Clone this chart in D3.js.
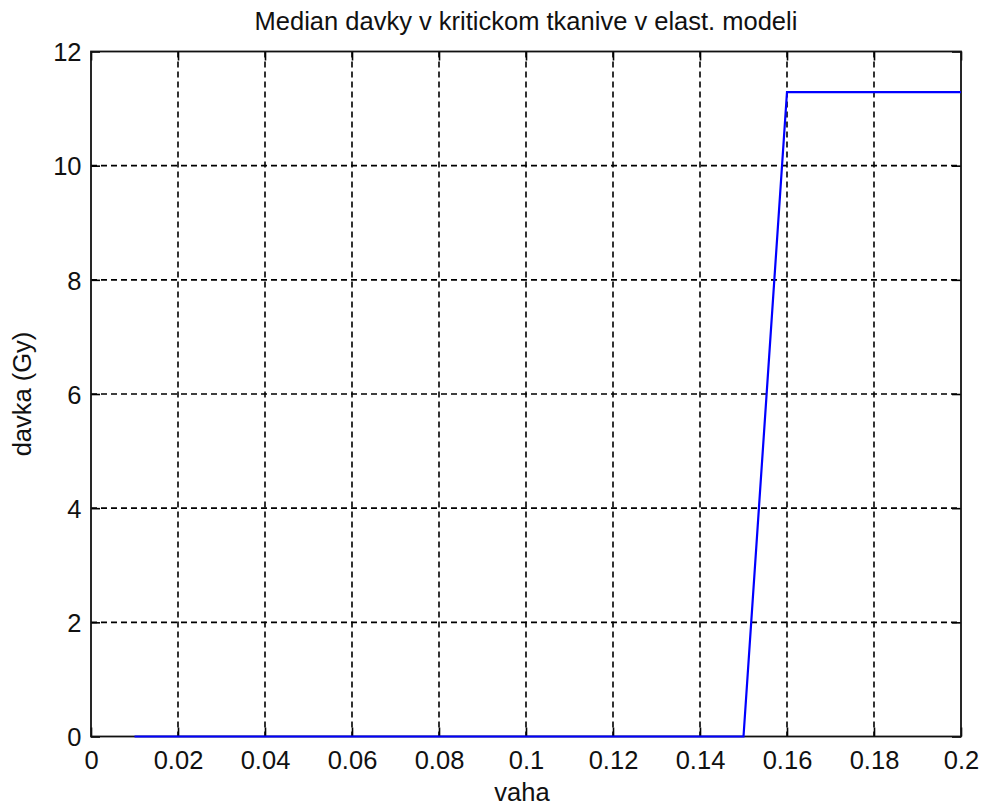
<!DOCTYPE html>
<html>
<head>
<meta charset="utf-8">
<script src="https://cdn.jsdelivr.net/npm/d3@7"></script>
<style>
  html, body { margin: 0; padding: 0; background: #fff; }
  svg { display: block; }
  text { font-family: "Liberation Sans", Arial, Helvetica, sans-serif; fill: #111; }
</style>
</head>
<body>
<svg id="chart" width="985" height="810"></svg>
<script>
// ---- data ----
const vaha = [0.01, 0.02, 0.03, 0.04, 0.05, 0.06, 0.07, 0.08, 0.09, 0.10,
              0.11, 0.12, 0.13, 0.14, 0.15, 0.16, 0.17, 0.18, 0.19, 0.20];
const davka = [0, 0, 0, 0, 0, 0, 0, 0, 0, 0,
               0, 0, 0, 0, 0, 11.29, 11.29, 11.29, 11.29, 11.29];
const xTicks = [0, 0.02, 0.04, 0.06, 0.08, 0.1, 0.12, 0.14, 0.16, 0.18, 0.2];
const yTicks = [0, 2, 4, 6, 8, 10, 12];
const titleText = "Median davky v kritickom tkanive v elast. modeli";
const xLabelText = "vaha";
const yLabelText = "davka (Gy)";

// ---- layout ----
const L = 91, R = 961, T = 51.5, B = 736.5;
const svg = d3.select("#chart");
const x = d3.scaleLinear().domain([0, 0.2]).range([L, R]);
const y = d3.scaleLinear().domain([0, 12]).range([B, T]);
const fs = 25.5;
const tickLen = 9;

// grid lines (dashed)
const grid = svg.append("g");
grid.selectAll("line.gx").data(xTicks.filter(d => d > 0 && d < 0.2)).join("line")
  .attr("x1", d => x(d)).attr("x2", d => x(d))
  .attr("y1", T).attr("y2", B)
  .attr("stroke", "#000").attr("stroke-width", 1.6)
  .attr("stroke-dasharray", "6,4");
grid.selectAll("line.gy").data(yTicks.filter(d => d > 0 && d < 12)).join("line")
  .attr("x1", L).attr("x2", R)
  .attr("y1", d => y(d)).attr("y2", d => y(d))
  .attr("stroke", "#000").attr("stroke-width", 1.6)
  .attr("stroke-dasharray", "6,4");

// axes with inward ticks
function styleAxis(g) {
  g.select(".domain").remove();
  g.selectAll(".tick line").attr("stroke", "#000").attr("stroke-width", 1.6);
  g.selectAll("text").style("font-size", fs + "px").attr("fill", "#111");
}
const xAxisB = svg.append("g").attr("transform", `translate(0,${B})`)
  .call(d3.axisBottom(x).tickValues(xTicks).tickFormat(d => String(d)).tickSizeInner(-tickLen).tickSizeOuter(0).tickPadding(0));
styleAxis(xAxisB);
xAxisB.selectAll("text").attr("y", 32).attr("dy", null);

const xAxisT = svg.append("g").attr("transform", `translate(0,${T})`)
  .call(d3.axisTop(x).tickValues(xTicks).tickFormat("").tickSizeInner(-tickLen).tickSizeOuter(0));
styleAxis(xAxisT);

const yAxisL = svg.append("g").attr("transform", `translate(${L},0)`)
  .call(d3.axisLeft(y).tickValues(yTicks).tickFormat(d => String(d)).tickSizeInner(-tickLen).tickSizeOuter(0).tickPadding(0));
styleAxis(yAxisL);
yAxisL.selectAll("text").attr("x", -9.5).attr("dy", "0.36em");

const yAxisR = svg.append("g").attr("transform", `translate(${R},0)`)
  .call(d3.axisRight(y).tickValues(yTicks).tickFormat("").tickSizeInner(-tickLen).tickSizeOuter(0));
styleAxis(yAxisR);

// box
svg.append("rect")
  .attr("x", L).attr("y", T).attr("width", R - L).attr("height", B - T)
  .attr("fill", "none").attr("stroke", "#111").attr("stroke-width", 1.8);

// data line
const line = d3.line().x((d, i) => x(vaha[i])).y(d => y(d));
svg.append("path")
  .datum(davka)
  .attr("d", line)
  .attr("fill", "none")
  .attr("stroke", "#0000ff")
  .attr("stroke-width", 2.2)
  .attr("stroke-linejoin", "miter");

// texts
svg.append("text").attr("x", (L + R) / 2).attr("y", 29.5)
  .attr("text-anchor", "middle").style("font-size", fs + "px").text(titleText);
svg.append("text").attr("x", 522).attr("y", 801)
  .attr("text-anchor", "middle").style("font-size", fs + "px").text(xLabelText);
svg.append("text").attr("transform", `translate(31,${(T + B) / 2}) rotate(-90)`)
  .attr("text-anchor", "middle").style("font-size", fs + "px").text(yLabelText);
</script>
</body>
</html>
